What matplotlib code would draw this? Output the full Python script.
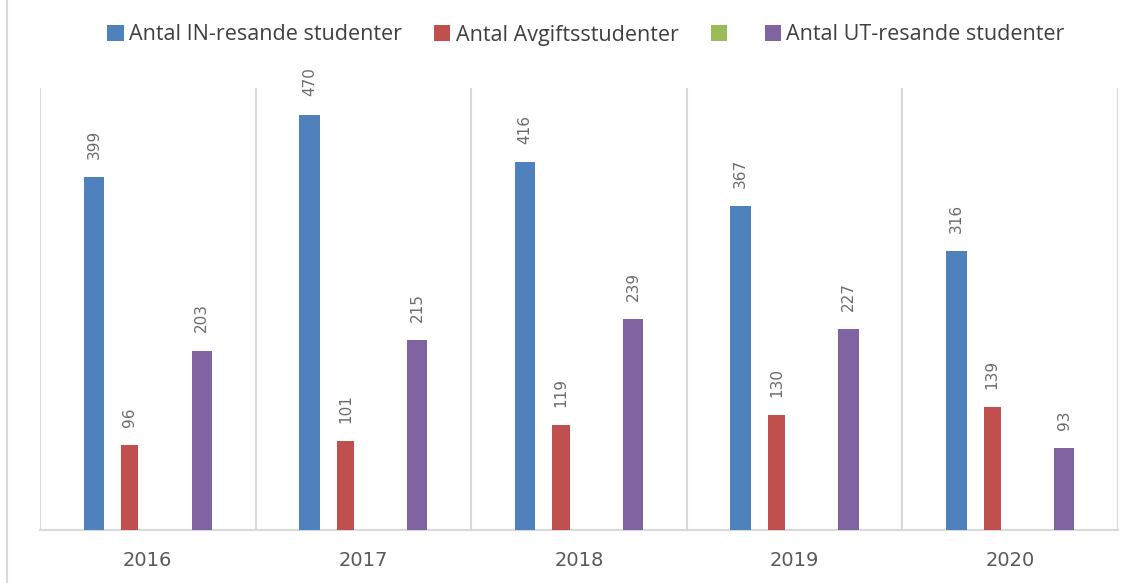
import matplotlib
matplotlib.use("Agg")
import matplotlib.pyplot as plt
from matplotlib.patches import Patch
from matplotlib.lines import Line2D
from matplotlib.font_manager import FontProperties
import numpy as np

years = ["2016", "2017", "2018", "2019", "2020"]
series_names = ["Antal IN-resande studenter", "Antal Avgiftsstudenter", "", "Antal UT-resande studenter"]
in_resande = [399, 470, 416, 367, 316]
avgift = [96, 101, 119, 130, 139]
green_series = [None, None, None, None, None]
ut_resande = [203, 215, 239, 227, 93]

colors = ["#4F81BD", "#C0504D", "#9BBB59", "#8064A2"]
text_color = "#595959"
grid_color = "#D9D9D9"

plt.rcParams['font.family'] = ['Open Sans', 'DejaVu Sans']

fig = plt.figure(figsize=(11.44, 5.83), dpi=100)
ax = fig.add_axes([40/1144, 1-530/583, (1118-40)/1144, (530-88)/583])

x = np.arange(len(years))
offsets = [-0.25, -0.0833, 0.0833, 0.25]
widths = [0.095, 0.08, 0.09, 0.093]
all_series = [in_resande, avgift, green_series, ut_resande]

for s, vals in enumerate(all_series):
    xs = [xi + offsets[s] for xi, v in zip(x, vals) if v is not None]
    vs = [v for v in vals if v is not None]
    if not vs:
        continue
    bars = ax.bar(xs, vs, width=widths[s], color=colors[s], zorder=3)
    for b, v in zip(bars, vs):
        ax.annotate(str(v), (b.get_x() + b.get_width()/2, b.get_height()),
                    xytext=(0, 13), textcoords="offset points",
                    rotation=90, ha="center", va="bottom",
                    fontsize=11, color="#6b6b6b", family=['DejaVu Sans'])

ax.set_xlim(-0.5, len(years) - 0.5)
ax.set_ylim(0, 500)
for b in np.arange(-0.5, len(years), 1.0):
    ax.axvline(b, color=grid_color, lw=1.5, zorder=1)

for sp in ["top", "left", "right"]:
    ax.spines[sp].set_visible(False)
ax.spines["bottom"].set_color(grid_color)
ax.spines["bottom"].set_linewidth(1.5)
ax.set_yticks([])
ax.set_xticks(x)
ax.set_xticklabels(years)
ax.tick_params(axis="x", length=0, pad=15)
for t in ax.get_xticklabels():
    t.set_fontproperties(FontProperties(family='DejaVu Sans', size=14))
    t.set_color(text_color)

handles = [Patch(facecolor=c) for c in colors]
fig.legend(handles, series_names, loc="center", bbox_to_anchor=(586/1144, 1-35/583),
           ncol=4, frameon=False, fontsize=15.5, labelcolor="#404040",
           handlelength=0.75, handleheight=0.75, handletextpad=0.25, columnspacing=1.5)

fig.add_artist(Line2D([7/1144, 7/1144], [0, 1], color=grid_color, lw=1.5))

fig.savefig("out.png", dpi=100)
